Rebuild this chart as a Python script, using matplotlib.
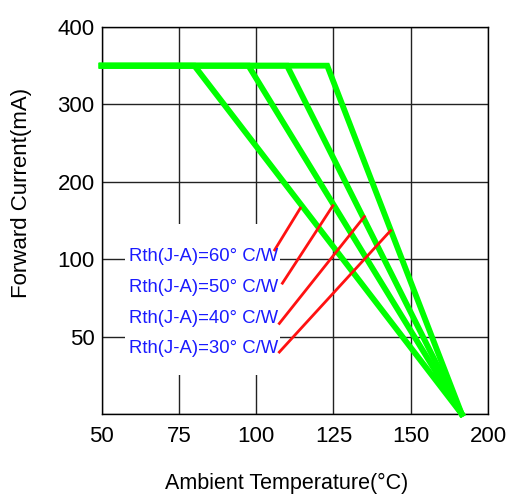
import matplotlib.pyplot as plt
import numpy as np
from matplotlib.patches import Rectangle

# derating curves: flat at max current, then straight down to zero
rth = [60, 50, 40, 30]            # deg C/W
t_break = [80, 97.5, 110, 123]    # ambient temp where derating starts
t_start = 50
t_zero = 183
i_max = 350

# axis tick labels (the original chart uses uneven steps)
x_ticks = [50, 75, 100, 125, 150, 200]
y_ticks = [0, 50, 100, 200, 300, 400]

# label + leader line anchors (temp, current)
label_pos = [(59, 103), (59, 81.5), (59, 62), (59, 42)]
leader_start = [(106, 112), (108.5, 84.5), (107.5, 58.5), (107.5, 40)]
leader_end = [(114.3, 166), (124.8, 169), (135, 155), (143.5, 137)]

plt.rcParams['font.family'] = ['Liberation Sans', 'DejaVu Sans']

steps = np.arange(len(x_ticks))


def fx(v):
    return np.interp(v, x_ticks, steps)


def fx_inv(v):
    return np.interp(v, steps, x_ticks)


def fy(v):
    return np.interp(v, y_ticks, steps)


def fy_inv(v):
    return np.interp(v, steps, y_ticks)


fig = plt.figure(figsize=(5.08, 4.98), dpi=100)
ax = fig.add_axes([0.2, 0.1687, 0.7606, 0.7771])
ax.set_xscale('function', functions=(fx, fx_inv))
ax.set_yscale('function', functions=(fy, fy_inv))
ax.set_xlim(50, 200)
ax.set_ylim(0, 400)
ax.set_xticks(x_ticks)
ax.set_xticklabels([str(t) for t in x_ticks])
ax.set_yticks(y_ticks)
ax.set_yticklabels([''] + [str(t) for t in y_ticks[1:]])
ax.minorticks_off()
ax.tick_params(length=0, labelsize=16)
ax.tick_params(axis='x', pad=9)
ax.tick_params(axis='y', pad=5)

ax.set_axisbelow(True)
ax.grid(True, color='#222222', lw=1)
for s in ax.spines.values():
    s.set_color('black')
    s.set_linewidth(1)

for tb in t_break:
    ax.plot([t_start, tb, t_zero], [i_max, i_max, 0], color='#00ff00', lw=4.2,
            solid_joinstyle='miter', zorder=3, clip_on=False)

# white box behind the labels
ax.add_patch(Rectangle((0.061, 0.10), 0.40, 0.39, transform=ax.transAxes,
                       facecolor='white', edgecolor='none', zorder=1))

for r, (tx, ty), (x0, y0), (x1, y1) in zip(rth, label_pos, leader_start, leader_end):
    ax.text(tx, ty, f'Rth(J-A)={r}° C/W', color='#1a1aff', fontsize=13.3,
            ha='left', va='center', zorder=5)
    ax.plot([x0, x1], [y0, y1], color='#ff1111', lw=2, zorder=4)

ax.set_xlabel('Ambient Temperature(°C)', fontsize=15.5)
ax.set_ylabel('Forward Current(mA)', fontsize=16)
ax.xaxis.set_label_coords(0.479, -0.152)
ax.yaxis.set_label_coords(-0.18, 0.571)

plt.savefig('out.png', dpi=100)
plt.close()
